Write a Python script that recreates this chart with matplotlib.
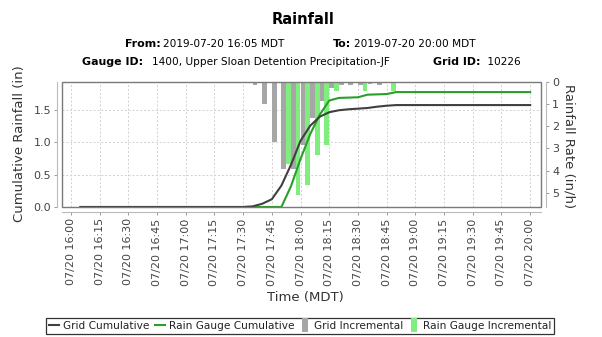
import matplotlib
matplotlib.use("Agg")
import matplotlib.pyplot as plt
import matplotlib.dates as mdates
from matplotlib.lines import Line2D
from matplotlib.patches import Rectangle
import pandas as pd
import numpy as np

# ---------------- data ----------------
cum_start = "2019-07-20 16:05"
cum_end = "2019-07-20 20:00"
grid_cumulative = [0.0] * 18 + [0.01, 0.05, 0.12, 0.33, 0.65, 1.02, 1.25, 1.39, 1.46, 1.49,
                                1.505, 1.515, 1.525, 1.545, 1.56, 1.57] + [1.57] * 14
gauge_cumulative = [0.0] * 22 + [0.32, 0.74, 1.12, 1.42, 1.64, 1.68, 1.685, 1.69, 1.73,
                                 1.735, 1.74, 1.77] + [1.77] * 14

grid_inc_times = ["17:35", "17:40", "17:45", "17:50", "17:55", "18:00", "18:05", "18:10",
                  "18:15", "18:20", "18:25", "18:30", "18:35", "18:40"]
grid_inc_rates = [0.15, 1.0, 2.72, 3.92, 3.92, 2.84, 1.64, 0.88, 0.28, 0.15, 0.15, 0.15, 0.12, 0.15]

gauge_inc_times = ["17:50", "17:55", "18:00", "18:05", "18:10", "18:15", "18:30", "18:45"]
gauge_inc_rates = [3.7, 5.1, 4.64, 3.32, 2.84, 0.43, 0.43, 0.43]

left_ticks = [0.0, 0.5, 1.0, 1.5]
right_ticks = [0, 1, 2, 3, 4, 5]

title = "Rainfall"
series_names = ["Grid Cumulative", "Rain Gauge Cumulative", "Grid Incremental", "Rain Gauge Incremental"]

# ---------------- styles ----------------
C_GRID_LINE = "#404040"
C_GAUGE_LINE = "#2A9E2A"
C_GRID_BAR = "#A6A6A6"
C_GAUGE_BAR = "#7FEE7F"
C_TICK = "#444444"
C_LABEL = "#333333"

W, H = 602, 337
fig = plt.figure(figsize=(W / 100, H / 100), dpi=100)
fig.patch.set_facecolor("white")

L, R, T, B = 62.3, 540.7, 81.7, 207.0
rect = [L / W, 1 - B / H, (R - L) / W, (B - T) / H]

ax = fig.add_axes(rect)          # grid + left/bottom axes
axb = ax.twinx()                 # bars (right axis)
axl = ax.twinx()                 # lines (on top)

cum_times = pd.date_range(cum_start, cum_end, freq="5min")
gi_t = pd.to_datetime(["2019-07-20 " + s for s in grid_inc_times])
ga_t = pd.to_datetime(["2019-07-20 " + s for s in gauge_inc_times])

half = pd.Timedelta(minutes=2.5)
bw = 2.45 / 1440.0
axb.bar(gi_t, grid_inc_rates, width=bw, align="edge", color=C_GRID_BAR, linewidth=0)
axb.bar(ga_t + half, gauge_inc_rates, width=bw, align="edge", color=C_GAUGE_BAR, linewidth=0)

axl.plot(cum_times, gauge_cumulative, color=C_GAUGE_LINE, lw=1.5, zorder=2)
axl.plot(cum_times, grid_cumulative, color=C_GRID_LINE, lw=1.5, zorder=3)

xmin = pd.Timestamp("2019-07-20 15:55:30")
xmax = pd.Timestamp("2019-07-20 20:05:30")
for a in (ax, axb, axl):
    a.set_xlim(xmin, xmax)
ax.set_ylim(0, 1.93)
axl.set_ylim(0, 1.93)
axb.set_ylim(5.64, 0)

# x ticks
ax.xaxis.set_major_locator(mdates.MinuteLocator(byminute=[0, 15, 30, 45]))
ax.xaxis.set_major_formatter(mdates.DateFormatter("%m/%d %H:%M"))
ax.tick_params(axis="x", labelrotation=90)
ax.set_yticks(left_ticks)
ax.set_yticklabels([f"{v:.1f}" for v in left_ticks])
axb.set_yticks(right_ticks)
axb.set_yticklabels([str(v) for v in right_ticks])

ax.grid(True, color="#D0D0D0", linestyle=(0, (2, 2)), linewidth=0.7)
ax.set_axisbelow(True)

for a in (ax, axb, axl):
    for s in a.spines.values():
        s.set_visible(False)
ax.spines["left"].set_visible(True)
ax.spines["bottom"].set_visible(True)
axb.spines["right"].set_visible(True)
for s in (ax.spines["left"], ax.spines["bottom"], axb.spines["right"]):
    s.set_position(("outward", 3.6))
    s.set_color("#BBBBBB")
    s.set_linewidth(0.8)

ax.tick_params(axis="both", colors="#999999", labelcolor=C_TICK, labelsize=8, length=2.5, width=0.7, pad=2)
axb.tick_params(axis="y", colors="#999999", labelcolor=C_TICK, labelsize=8, length=2.5, width=0.7, pad=2)
axl.tick_params(axis="both", which="both", left=False, right=False, bottom=False,
                labelleft=False, labelright=False, labelbottom=False)
axb.tick_params(axis="x", bottom=False, labelbottom=False)

axl.add_patch(Rectangle((0, 0), 1, 1, transform=axl.transAxes, fill=False,
                        edgecolor="#7A7A7A", linewidth=1.0, clip_on=False, zorder=10))

# axis labels
fig.text(20 / W, 1 - 144 / H, "Cumulative Rainfall (in)", rotation=90, ha="center", va="center",
         fontsize=9.5, color=C_LABEL)
fig.text(569.5 / W, 1 - 146 / H, "Rainfall Rate (in/h)", rotation=-90, ha="center", va="center",
         fontsize=9.5, color=C_LABEL)
fig.text(305 / W, 1 - 297 / H, "Time (MDT)", ha="center", va="center", fontsize=9.5, color=C_LABEL)

# title + subtitles
fig.text(303 / W, 1 - 20 / H, title, ha="center", va="center", fontsize=10.5, fontweight="bold", color="black")

fig.canvas.draw()
renderer = fig.canvas.get_renderer()


def label_pair(x, y, bold, value, vx=None, fs=7.6):
    t1 = fig.text(x / W, 1 - y / H, bold, ha="left", va="center", fontsize=fs + 0.3,
                  fontweight="bold", color="black")
    if vx is None:
        bb = t1.get_window_extent(renderer=renderer)
        vx = bb.x1 + 3
    fig.text(vx / W, 1 - y / H, value, ha="left", va="center", fontsize=fs, color="black")


label_pair(124.5, 44, "From:", "2019-07-20 16:05 MDT")
label_pair(333.0, 44, "To:", "2019-07-20 20:00 MDT")
label_pair(81.7, 62, "Gauge ID:", "1400, Upper Sloan Detention Precipitation-JF", vx=152)
label_pair(433.0, 62, "Grid ID:", " 10226")

# legend
bar_marker = [(-0.4, -1.0), (0.4, -1.0), (0.4, 1.0), (-0.4, 1.0), (-0.4, -1.0)]
handles = [
    Line2D([], [], color=C_GRID_LINE, lw=1.5),
    Line2D([], [], color=C_GAUGE_LINE, lw=1.5),
    Line2D([], [], ls="none", marker=bar_marker, markersize=10, markerfacecolor=C_GRID_BAR,
           markeredgewidth=0),
    Line2D([], [], ls="none", marker=bar_marker, markersize=10, markerfacecolor=C_GAUGE_BAR,
           markeredgewidth=0),
]
leg = fig.legend(handles, series_names, loc="center", bbox_to_anchor=(300 / W, 1 - 326 / H),
                 ncol=4, fontsize=7.6, frameon=True, fancybox=False, edgecolor="black",
                 handlelength=1.0, handletextpad=0.35, columnspacing=0.5, borderpad=0.25,
                 borderaxespad=0)
leg.get_frame().set_linewidth(0.9)
for t in leg.get_texts():
    t.set_color("#222222")

fig.savefig("out.png", dpi=100, facecolor="white")
